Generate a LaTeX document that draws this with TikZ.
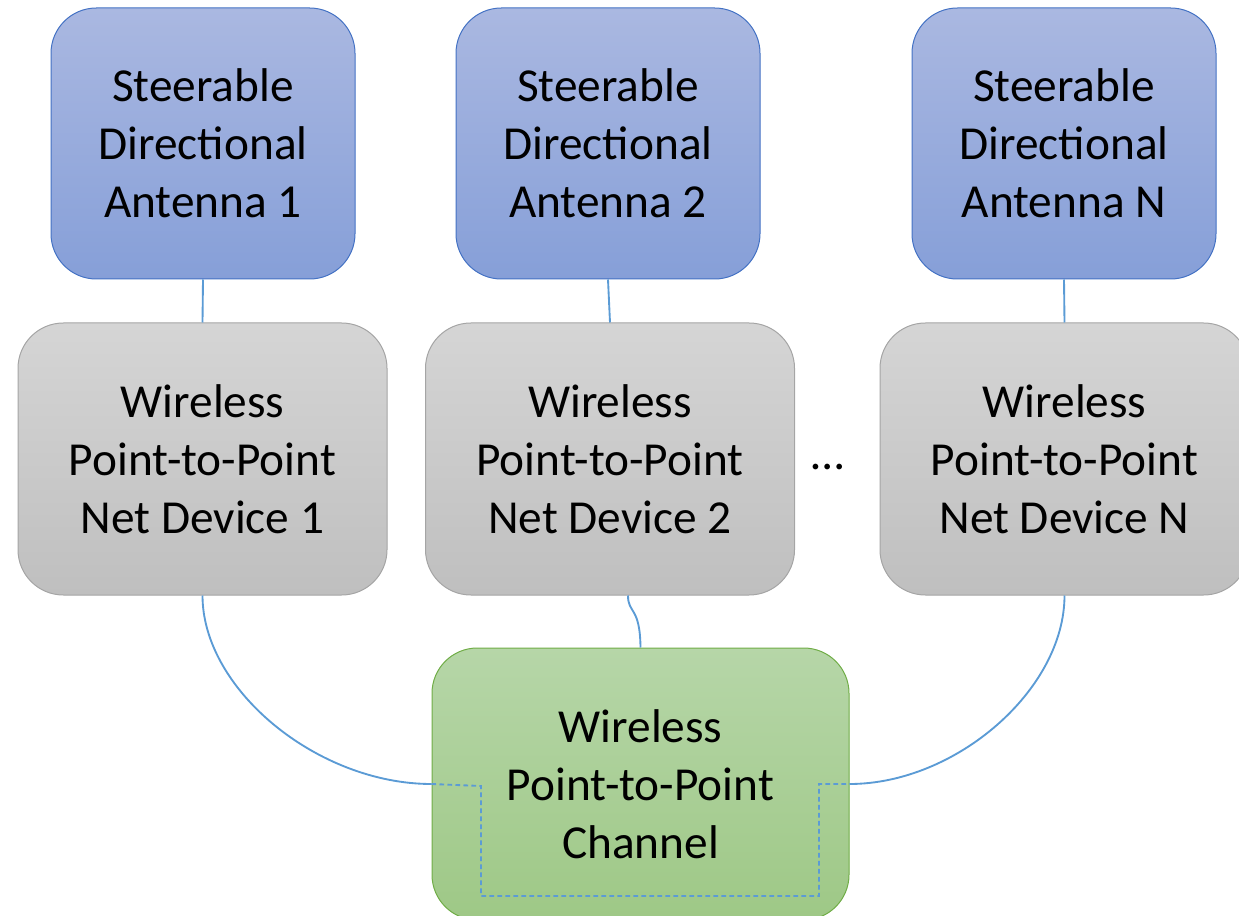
\documentclass[tikz,border=0pt]{standalone}
\usepackage{fontspec}
\setmainfont{Carlito}
\usetikzlibrary{calc}

\definecolor{antTop}{RGB}{170,184,225}
\definecolor{antBot}{RGB}{134,159,216}
\definecolor{antLine}{RGB}{68,114,196}
\definecolor{devTop}{RGB}{213,213,213}
\definecolor{devBot}{RGB}{191,191,191}
\definecolor{devLine}{RGB}{165,165,165}
\definecolor{chTop}{RGB}{182,214,168}
\definecolor{chBot}{RGB}{158,200,134}
\definecolor{chLine}{RGB}{112,173,71}
\definecolor{wire}{RGB}{91,155,213}

\begin{document}
\begin{tikzpicture}[x=0.75pt,y=-0.75pt,
  box/.style={rounded corners=34pt, line width=0.75pt, align=center,
    font=\fontsize{35.5}{43.5}\selectfont, inner sep=0pt},
  antenna/.style={box, draw=antLine, top color=antTop, bottom color=antBot,
    minimum width=228pt, minimum height=203.25pt},
  netdev/.style={box, draw=devLine, top color=devTop, bottom color=devBot,
    minimum width=276.75pt, minimum height=204pt},
  channel/.style={box, draw=chLine, top color=chTop, bottom color=chBot,
    minimum width=312.75pt, minimum height=204pt},
  link/.style={draw=wire, line width=1.4pt},
  innerlink/.style={draw=wire, line width=1.4pt, dash pattern=on 3.5pt off 2.5pt}]

\useasboundingbox (0,0) rectangle (1239,916);
\clip (0,0) rectangle (1239,916);

% antennas
\node[antenna] (ant1) at (203,143.5) {Steerable\\Directional\\Antenna 1};
\node[antenna] (ant2) at (608,143.5) {Steerable\\Directional\\Antenna 2};
\node[antenna] (antN) at (1064,143.5) {Steerable\\Directional\\Antenna N};

% net devices
\node[netdev] (dev1) at (202.5,459) {Wireless\\Point-to-Point\\Net Device 1};
\node[netdev] (dev2) at (610,459) {Wireless\\Point-to-Point\\Net Device 2};
\node[netdev] (devN) at (1064.5,459) {Wireless\\Point-to-Point\\Net Device N};
\node[font=\fontsize{35.5}{43.5}\selectfont, inner sep=0pt] (dots) at (828,467) {…};

% channel
\node[channel] (chan) at (640.5,784) {Wireless\\Point-to-Point\\Channel};

% antenna to device links
\draw[link] (ant1.south) -- (dev1.north);
\draw[link] (ant2.south) -- (dev2.north);
\draw[link] (antN.south) -- (devN.north);

% device to channel links
\coordinate (d2out) at ([xshift=13.5pt]dev2.south);
\draw[link] (d2out) .. controls (628,614) and (640,606) .. (chan.north);
\draw[link] (dev1.south) .. controls (202.5,689.5) and (317.5,784) .. (chan.west);
\draw[link] (devN.south) .. controls (1064.5,689.5) and (956,784) .. (chan.east);

% path through the channel
\coordinate (cA) at (481,786);
\coordinate (cB) at (481,896);
\coordinate (cC) at (819,896);
\coordinate (cD) at (819,784);
\draw[innerlink] (chan.west) -- (cA) -- (cB) -- (cC) -- (cD) -- (chan.east);
\end{tikzpicture}
\end{document}
